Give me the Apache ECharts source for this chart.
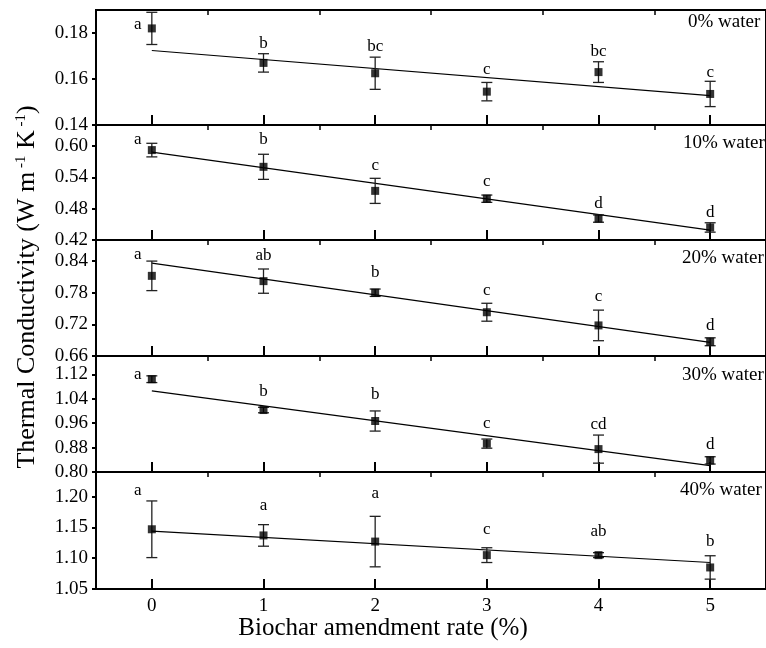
<!DOCTYPE html>
<html><head><meta charset="utf-8">
<script src="https://cdn.jsdelivr.net/npm/echarts@6/dist/echarts.min.js"></script>
<style>html,body{margin:0;padding:0;background:#fff}#c{width:766px;height:648px}</style>
</head><body><div id="c"></div>
<script>
// ---------- data ----------
const categories = ['0', '1', '2', '3', '4', '5'];
const panelNames = ['0% water', '10% water', '20% water', '30% water', '40% water'];

const mean0 = [0.182, 0.167, 0.1625, 0.1545, 0.163, 0.1535];
const err0 = [0.007, 0.004, 0.007, 0.004, 0.0045, 0.0055];
const letters0 = ['a', 'b', 'bc', 'c', 'bc', 'c'];
const letterY0 = [0.1837, 0.1754, 0.174, 0.1643, 0.1718, 0.1628];
const fit0 = [0.1724, 0.1528];

const mean10 = [0.592, 0.560, 0.514, 0.499, 0.461, 0.444];
const err10 = [0.013, 0.024, 0.024, 0.007, 0.007, 0.009];
const letters10 = ['a', 'b', 'c', 'c', 'd', 'd'];
const letterY10 = [0.612, 0.612, 0.562, 0.531, 0.490, 0.473];
const fit10 = [0.588, 0.439];

const mean20 = [0.812, 0.802, 0.780, 0.743, 0.718, 0.687];
const err20 = [0.028, 0.023, 0.007, 0.017, 0.029, 0.0075];
const letters20 = ['a', 'ab', 'b', 'c', 'c', 'd'];
const letterY20 = [0.852, 0.851, 0.819, 0.785, 0.772, 0.718];
const fit20 = [0.836, 0.686];

const mean30 = [1.104, 1.003, 0.967, 0.893, 0.875, 0.838];
const err30 = [0.011, 0.009, 0.033, 0.015, 0.046, 0.012];
const letters30 = ['a', 'b', 'b', 'c', 'cd', 'd'];
const letterY30 = [1.118, 1.063, 1.055, 0.960, 0.957, 0.891];
const fit30 = [1.066, 0.821];

const mean40 = [1.147, 1.137, 1.127, 1.105, 1.105, 1.085];
const err40 = [0.046, 0.0175, 0.041, 0.012, 0.004, 0.019];
const letters40 = ['a', 'a', 'a', 'c', 'ab', 'b'];
const letterY40 = [1.210, 1.185, 1.205, 1.146, 1.143, 1.127];
const fit40 = [1.144, 1.093];

const yMin = [0.14, 0.42, 0.66, 0.80, 1.05];
const yMax = [0.19, 0.64, 0.88, 1.18, 1.24];
const yStep = [0.02, 0.06, 0.06, 0.08, 0.05];

// ---------- layout ----------
const panels = [
  {m: mean0, e: err0, l: letters0, ly: letterY0, f: fit0},
  {m: mean10, e: err10, l: letters10, ly: letterY10, f: fit10},
  {m: mean20, e: err20, l: letters20, ly: letterY20, f: fit20},
  {m: mean30, e: err30, l: letters30, ly: letterY30, f: fit30},
  {m: mean40, e: err40, l: letters40, ly: letterY40, f: fit40}
];
const gridTops = [10, 125, 240, 356, 472];
const gridHeights = [115, 115, 116, 116, 117];
const nameLeft = [688, 683, 682, 682, 680];
const nameTop = [13, 134, 249, 366, 481];
const FONT = '"Liberation Serif", "Times New Roman", serif';

const grid = [], xAxis = [], yAxis = [], series = [], graphic = [];

panels.forEach((p, k) => {
  grid.push({left: 96, width: 679, top: gridTops[k], height: gridHeights[k],
    show: true, borderColor: '#000', borderWidth: 2, backgroundColor: 'transparent'});
  const isLast = k === panels.length - 1;
  // major x axis
  xAxis.push({type: 'category', gridIndex: k, data: categories, boundaryGap: true,
    axisLine: {show: false},
    axisTick: {show: true, inside: true, alignWithLabel: true, length: 10, lineStyle: {color: '#000', width: 2}},
    axisLabel: {show: isLast, color: '#000', fontFamily: FONT, fontSize: 19, margin: 8},
    splitLine: {show: false}});
  // minor x axis
  xAxis.push({type: 'category', gridIndex: k, data: categories, boundaryGap: true,
    axisLine: {show: false},
    axisTick: {show: true, inside: true, alignWithLabel: false, length: 5, lineStyle: {color: '#000', width: 1.5}},
    axisLabel: {show: false}, splitLine: {show: false}});
  yAxis.push({type: 'value', gridIndex: k, min: yMin[k], max: yMax[k], interval: yStep[k],
    axisLine: {show: false},
    axisTick: {show: true, inside: false, length: 4, lineStyle: {color: '#000', width: 2}},
    axisLabel: {color: '#000', fontFamily: FONT, fontSize: 19, margin: 8, showMaxLabel: false,
      formatter: v => (Math.abs(v / yStep[k] - Math.round(v / yStep[k])) < 1e-6) ? v.toFixed(2) : ''},
    splitLine: {show: false}});

  const xi = 2 * k;
  // regression line
  series.push({type: 'line', xAxisIndex: xi, yAxisIndex: k, data: [[0, p.f[0]], [5, p.f[1]]],
    symbol: 'none', lineStyle: {color: '#000', width: 1.2}, z: 2, silent: true, animation: false});
  // error bars
  series.push({type: 'custom', xAxisIndex: xi, yAxisIndex: k,
    data: p.m.map((m, i) => [i, m - p.e[i], m + p.e[i]]),
    renderItem: (params, api) => {
      const lo = api.coord([api.value(0), api.value(1)]);
      const hi = api.coord([api.value(0), api.value(2)]);
      const w = 5.5;
      const st = {stroke: '#222', lineWidth: 1.3};
      return {type: 'group', children: [
        {type: 'line', shape: {x1: lo[0], y1: lo[1], x2: hi[0], y2: hi[1]}, style: st},
        {type: 'line', shape: {x1: lo[0] - w, y1: lo[1], x2: lo[0] + w, y2: lo[1]}, style: st},
        {type: 'line', shape: {x1: hi[0] - w, y1: hi[1], x2: hi[0] + w, y2: hi[1]}, style: st}
      ]};
    }, z: 3, silent: true, animation: false});
  // means
  series.push({type: 'scatter', xAxisIndex: xi, yAxisIndex: k,
    data: p.m.map((m, i) => [i, m]), symbol: 'rect', symbolSize: 8,
    itemStyle: {color: '#000'}, z: 4, silent: true, animation: false});
  // significance letters
  series.push({type: 'custom', xAxisIndex: xi, yAxisIndex: k,
    data: p.ly.map((v, i) => [i, v]),
    renderItem: (params, api) => {
      const i = params.dataIndex;
      const c = api.coord([api.value(0), api.value(1)]);
      return {type: 'text', x: c[0] + (i === 0 ? -14 : 0), y: c[1],
        style: {text: p.l[i], fill: '#000', font: '17px ' + FONT, align: 'center', verticalAlign: 'middle'}};
    }, z: 5, silent: true, animation: false});

  graphic.push({type: 'text', left: nameLeft[k], top: nameTop[k],
    style: {text: panelNames[k], fill: '#000', font: '19px ' + FONT}});
});

graphic.push({type: 'text', x: 383, y: 628,
  style: {text: 'Biochar amendment rate (%)', fill: '#000', font: '25px ' + FONT, align: 'center', verticalAlign: 'middle'}});
graphic.push({type: 'text', x: 27, y: 287, rotation: Math.PI / 2,
  style: {text: '{a|Thermal Conductivity (W m}{s| -1}{a| K}{s| -1}{a|)}', fill: '#000', align: 'center', verticalAlign: 'middle',
    rich: {a: {fontFamily: FONT, fontSize: 26, fill: '#000'},
           s: {fontFamily: FONT, fontSize: 15, fill: '#000', verticalAlign: 'top', padding: [0, 0, 12, 0]}}}});

const chart = echarts.init(document.getElementById('c'), null, {renderer: 'canvas'});
chart.setOption({animation: false, backgroundColor: '#fff', grid, xAxis, yAxis, series, graphic});
</script>
</body></html>
